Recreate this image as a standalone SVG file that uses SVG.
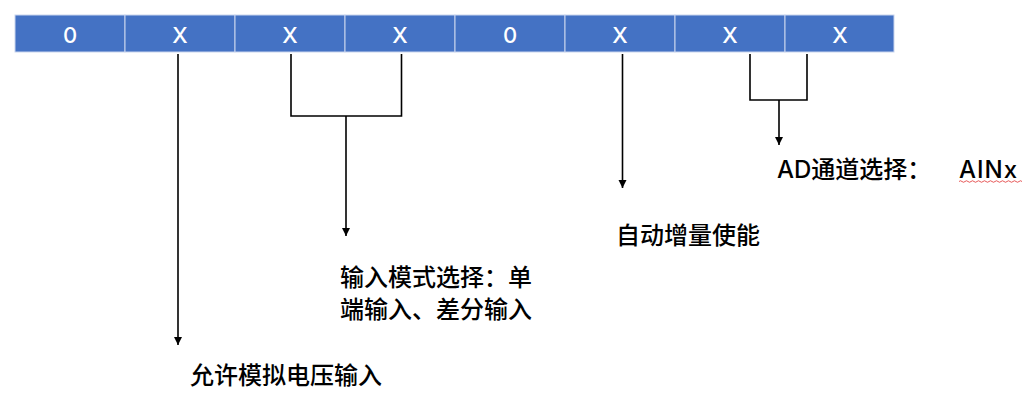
<svg xmlns="http://www.w3.org/2000/svg" width="1035" height="407" viewBox="0 0 1035 407">
  <style>
    .cell { fill: #4472C4; stroke: #C9D5EE; stroke-width: 1; }
    .bit { fill: #FFFFFF; font-family: "Inter", "Liberation Sans", sans-serif; font-weight: 500; font-size: 22px; text-anchor: middle; }
    .lbl { fill: #000000; font-family: "Inter", "Noto Sans CJK SC", sans-serif; font-weight: 500; font-size: 24px; }
    .con { fill: none; stroke: #000000; stroke-width: 1.6; }
  </style>
  <defs>
    <marker id="arr" markerUnits="userSpaceOnUse" markerWidth="10" markerHeight="10" viewBox="0 0 10 10" refX="8" refY="5" orient="auto">
      <path d="M0,1 L8,5 L0,9 Z" fill="#000000"/>
    </marker>
  </defs>
  <rect x="0" y="0" width="1035" height="407" fill="#FFFFFF"/>
  <g id="register">
    <rect class="cell" x="15" y="15" width="110" height="37"/>
    <rect class="cell" x="125" y="15" width="110" height="37"/>
    <rect class="cell" x="235" y="15" width="110" height="37"/>
    <rect class="cell" x="345" y="15" width="110" height="37"/>
    <rect class="cell" x="455" y="15" width="110" height="37"/>
    <rect class="cell" x="565" y="15" width="110" height="37"/>
    <rect class="cell" x="675" y="15" width="110" height="37"/>
    <rect class="cell" x="785" y="15" width="109" height="37"/>
    <text class="bit" x="70" y="43">0</text>
    <text class="bit" x="180" y="43">X</text>
    <text class="bit" x="290" y="43">X</text>
    <text class="bit" x="400" y="43">X</text>
    <text class="bit" x="510" y="43">0</text>
    <text class="bit" x="620" y="43">X</text>
    <text class="bit" x="730" y="43">X</text>
    <text class="bit" x="840" y="43">X</text>
  </g>
  <g id="connectors">
    <path class="con" d="M178,54 V345" marker-end="url(#arr)"/>
    <path class="con" d="M291,54 V116 H401.5 V54"/>
    <path class="con" d="M346,116 V236" marker-end="url(#arr)"/>
    <path class="con" d="M622.5,54 V188" marker-end="url(#arr)"/>
    <path class="con" d="M750,54 V100 H807 V54"/>
    <path class="con" d="M779,100 V145" marker-end="url(#arr)"/>
  </g>
  <g id="label-analog">
    <text class="lbl" x="190" y="384">允许模拟电压输入</text>
  </g>
  <g id="label-mode">
    <text class="lbl" x="340" y="286">输入模式选择：单</text>
    <text class="lbl" x="340" y="318">端输入、差分输入</text>
  </g>
  <g id="label-auto">
    <text class="lbl" x="616" y="244">自动增量使能</text>
  </g>
  <g id="label-ad">
    <text class="lbl" x="777" y="178">AD通道选择：</text>
    <text class="lbl" x="959" y="178" letter-spacing="1">AINx</text>
    <path d="M959,181.5 q1.5,-1.5 3,0 t3,0 t3,0 t3,0 t3,0 t3,0 t3,0 t3,0 t3,0 t3,0 t3,0 t3,0 t3,0 t3,0 t3,0 t3,0 t3,0 t3,0 t3,0 t3,0 t3,0" fill="none" stroke="#E03030" stroke-width="0.8"/>
  </g>
</svg>
